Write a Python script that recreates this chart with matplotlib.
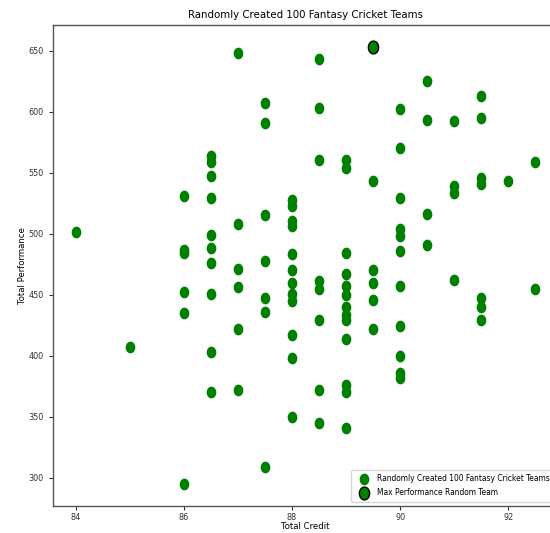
import numpy as np
import matplotlib
matplotlib.use("Agg")
import matplotlib.pyplot as plt
from matplotlib.path import Path

# total credit of each random team, grouped by credit value
credit_values = [84, 85, 86, 86.5, 87, 87.5, 88, 88.5, 89, 89.5, 90, 90.5, 91, 91.5, 92, 92.5]

# total performance of the teams at each credit value
performance_groups = [
    [501],
    [407],
    [531, 487, 484, 452, 435, 295],
    [564, 559, 547, 529, 499, 488, 476, 451, 403, 370],
    [648, 508, 471, 456, 422, 372],
    [607, 591, 515, 478, 447, 436, 309],
    [528, 523, 510, 506, 483, 470, 460, 451, 445, 417, 398, 350],
    [643, 603, 560, 461, 455, 429, 372, 345],
    [560, 554, 484, 467, 457, 450, 440, 433, 429, 414, 376, 370, 341],
    [653, 543, 470, 460, 446, 422],
    [602, 570, 529, 504, 498, 486, 457, 424, 400, 386, 382],
    [625, 593, 516, 491],
    [592, 539, 533, 462],
    [613, 595, 546, 541, 447, 440, 429],
    [543],
    [559, 455],
]

max_credit = 89.5
max_performance = 653

title = "Randomly Created 100 Fantasy Cricket Teams"
x_label = "Total Credit"
y_label = "Total Performance"
legend_labels = ["Randomly Created 100 Fantasy Cricket Teams", "Max Performance Random Team"]

# the reference text looks squeezed sideways; use the condensed face
plt.rcParams["font.stretch"] = "condensed"


def ellipse_marker(ratio=0.8):
    # dots are a bit taller than wide in the reference
    t = np.linspace(0, 2 * np.pi, 60)
    verts = np.column_stack([ratio * np.cos(t), np.sin(t)])
    return Path(verts, closed=True)


def main():
    credits = []
    performances = []
    for c, group in zip(credit_values, performance_groups):
        for p in group:
            credits.append(c)
            performances.append(p)

    fig = plt.figure(figsize=(5.5, 5.33), dpi=100)
    # axes run a bit past the right edge, like the cropped reference
    ax = fig.add_axes([0.096, 0.051, 0.919, 0.902])

    marker = ellipse_marker()
    ax.scatter(credits, performances, s=55, c="green", marker=marker,
               label=legend_labels[0])
    ax.scatter([max_credit], [max_performance], s=85, c="green", marker=marker,
               edgecolors="black", linewidths=1.0, label=legend_labels[1])

    ax.set_title(title, fontsize=8.2, pad=5)
    ax.set_xlabel(x_label, fontsize=6.8, labelpad=0)
    ax.set_ylabel(y_label, fontsize=6.8, labelpad=1)
    ax.set_xticks([84, 86, 88, 90, 92])
    ax.set_yticks([300, 350, 400, 450, 500, 550, 600, 650])
    ax.tick_params(labelsize=6.5, colors="#333333", length=3, width=0.8)
    ax.tick_params(axis="x", pad=2)

    for spine in ax.spines.values():
        spine.set_color("#555555")
        spine.set_linewidth(1.0)

    ax.legend(loc="lower right", fontsize=6, frameon=True, framealpha=0.8,
              handletextpad=0.6, borderpad=0.5, labelspacing=0.6)

    fig.savefig("out.png", dpi=100)


if __name__ == "__main__":
    main()
